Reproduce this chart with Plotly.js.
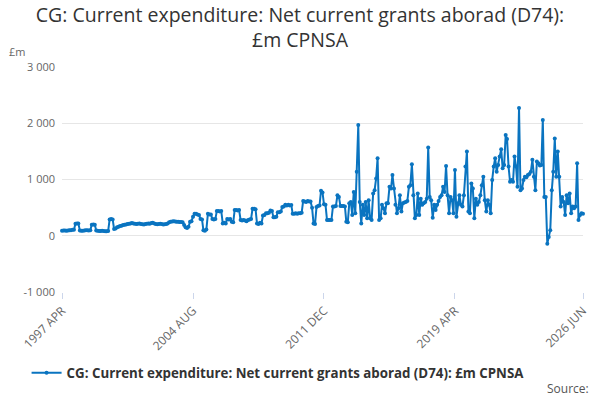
<!DOCTYPE html>
<html>
<head>
<meta charset="utf-8">
<script src="https://cdn.plot.ly/plotly-3.0.1.min.js"></script>
<style>
  html, body { margin: 0; padding: 0; background: #fff; }
  #chart { width: 600px; height: 400px; }
</style>
</head>
<body>
<div id="chart"></div>
<script>
// monthly values, £m (Apr 1997 .. Jun 2026)
var values1997 = [90, 95, 95, 90, 95, 100, 100, 105, 105, 215, 220, 220, 95, 90, 90, 95, 100, 100, 95, 100,
  195, 200, 195, 95, 90, 85, 85, 90, 85, 80, 80, 85, 290, 300, 290, 120, 130, 150, 160, 175, 180, 190,
  195, 200, 210, 215, 220, 225, 220, 215, 210, 215, 220, 210, 205, 200, 210, 215, 220, 215, 225, 230,
  220, 210, 205, 210, 215, 210, 200, 205, 210, 220, 240, 250, 255, 260, 255, 250, 250, 245, 245, 240,
  190, 150, 140, 160, 250, 260];
var values2004 = [340, 390, 390, 380, 370, 300, 290, 100, 90, 110, 390, 380, 380, 300, 290, 300, 440, 440,
  430, 440, 220, 230, 220, 300, 290, 300, 250, 240, 460, 460, 450, 460, 280, 270, 280, 270, 260, 280,
  290, 300, 480, 480, 470, 220, 210, 230, 220, 360, 370, 400, 400, 410, 450, 440, 330, 330, 340, 420,
  420, 430, 510, 520, 550, 540, 550, 540, 545, 390, 390, 400, 390, 400, 400, 410, 620, 610, 600, 620,
  610, 610, 500, 220, 210, 510, 530, 540, 800, 770];
var values2011 = [560, 550, 280, 280, 280, 280, 520, 520, 530, 720, 690, 530, 530, 530, 520, 250, 240, 580,
  600, 370, 780, 400, 1140, 1970, 600, 220, 550, 370, 600, 310, 630, 310, 280, 750, 810, 1020, 1380,
  280, 310, 550, 490, 400, 580, 580, 870, 840, 1080, 840, 550, 400, 490, 720, 430, 580, 590, 600, 620,
  870, 900, 1270, 720, 310, 370, 750, 370, 660, 550, 580, 600, 660, 1570, 690, 630, 320, 550, 460, 550,
  620, 690, 720, 870, 780, 1240, 720, 400, 690, 630, 400];
var values2019 = [1170, 340, 580, 720, 550, 520, 720, 1230, 1500, 430, 400, 930, 840, 310, 660, 550, 600,
  720, 900, 1050, 630, 430, 630, 550, 400, 990, 1230, 1380, 1140, 1260, 1410, 1540, 1200, 1260, 1790,
  1720, 1230, 960, 990, 960, 1410, 1230, 870, 2270, 810, 840, 990, 1050, 1040, 1080, 1100, 1140, 1350,
  1050, 810, 1320, 1290, 1250, 1260, 2060, 690, 690, -140, -20, 100, 810, 1140, 1730, 1050, 1500, 1050,
  520, 690, 600, 370, 720, 580, 750, 400, 520, 490, 520, 1290, 280, 370, 400, 390];

var tickDates = ['1997-04-01', '2004-08-01', '2011-12-01', '2019-04-01', '2026-06-01'];
var tickLabels = ['1997 APR', '2004 AUG', '2011 DEC', '2019 APR', '2026 JUN'];
var yTicks = [-1000, 0, 1000, 2000, 3000];
var yLabels = ['-1 000', '0', '1 000', '2 000', '3 000'];
var seriesName = 'CG: Current expenditure: Net current grants aborad (D74): £m CPNSA';

var values = values1997.concat(values2004, values2011, values2019);

// month dates starting April 1997
var dates = values.map(function (v, i) {
  var m = 3 + i;
  var yr = 1997 + Math.floor(m / 12);
  var mo = (m % 12) + 1;
  return yr + '-' + (mo < 10 ? '0' + mo : mo) + '-01';
});

var blue = '#0a74c0';

var data = [{
  x: dates,
  y: values,
  name: seriesName,
  type: 'scatter',
  mode: 'lines+markers',
  line: { color: blue, width: 2 },
  marker: { color: blue, size: 4 },
  cliponaxis: false
}];

var layout = {
  width: 600,
  height: 400,
  font: { family: '"Open Sans", "Liberation Sans", sans-serif', color: '#333' },
  title: {
    text: 'CG: Current expenditure: Net current grants aborad (D74):<br>£m CPNSA',
    font: { size: 19.5, color: '#333' },
    x: 0.5,
    xanchor: 'center',
    yref: 'container',
    y: 0.945,
    yanchor: 'middle'
  },
  margin: { l: 62, r: 17, t: 67, b: 108 },
  paper_bgcolor: '#fff',
  plot_bgcolor: '#fff',
  xaxis: {
    type: 'date',
    range: ['1997-04-01', '2026-06-01'],
    tickvals: tickDates,
    ticktext: tickLabels,
    tickangle: -45,
    ticks: 'outside',
    ticklen: 6,
    tickcolor: '#ccd6eb',
    tickfont: { size: 12, color: '#666' },
    showgrid: false,
    showline: false,
    zeroline: false
  },
  yaxis: {
    range: [-1000, 3000],
    tickvals: yTicks,
    ticktext: yLabels,
    tickfont: { size: 11, color: '#666' },
    gridcolor: '#e6e6e6',
    gridwidth: 1,
    zeroline: false,
    showline: false,
    ticks: '',
    ticklabelstandoff: 6
  },
  showlegend: true,
  legend: {
    orientation: 'h',
    x: -0.068,
    xanchor: 'left',
    y: -0.36,
    yanchor: 'middle',
    font: { size: 13.3, color: '#333', weight: 'bold' }
  },
  annotations: [{
    text: '£m',
    xref: 'paper', yref: 'paper',
    x: -0.105, y: 1.068,
    xanchor: 'left', yanchor: 'middle',
    showarrow: false,
    font: { size: 11, color: '#666' }
  }, {
    text: 'Source:',
    xref: 'paper', yref: 'paper',
    x: 1.015, y: -0.43,
    xanchor: 'right', yanchor: 'middle',
    showarrow: false,
    font: { size: 12, color: '#555' }
  }]
};

Plotly.newPlot('chart', data, layout, { displayModeBar: false, staticPlot: true });
</script>
</body>
</html>
